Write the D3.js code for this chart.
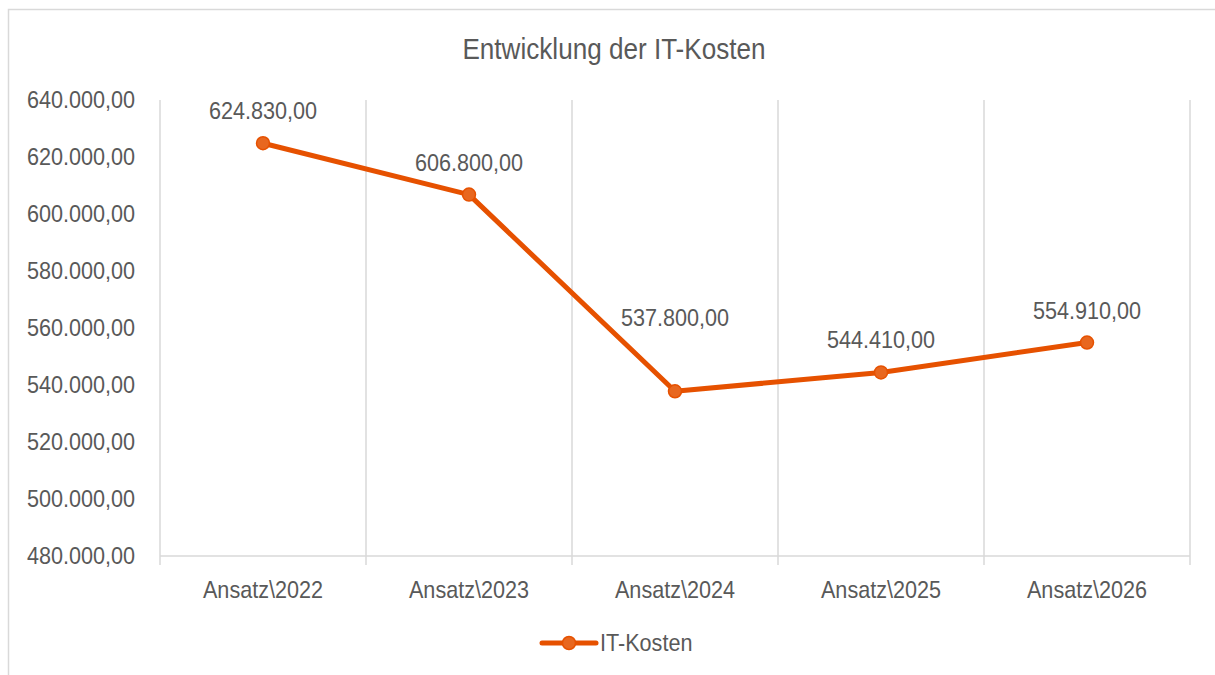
<!DOCTYPE html>
<html>
<head>
<meta charset="utf-8">
<script src="https://cdn.jsdelivr.net/npm/d3@7"></script>
<style>
  body { margin: 0; background: #fff; }
  text { font-family: "Liberation Sans", Arial, sans-serif; fill: #595959; }
</style>
</head>
<body>
<svg id="chart" width="1215" height="675"></svg>
<script>
var categories = ["Ansatz\\2022", "Ansatz\\2023", "Ansatz\\2024", "Ansatz\\2025", "Ansatz\\2026"];
var costs = [624830, 606800, 537800, 544410, 554910];
var yTicks = [480000, 500000, 520000, 540000, 560000, 580000, 600000, 620000, 640000];

var lineColor = "#e65100";
var fmt = d3.formatLocale({ decimal: ",", thousands: ".", grouping: [3], currency: ["", "€"] }).format(",.2f");

var svg = d3.select("#chart");
var m = { left: 160, right: 1190, top: 100, bottom: 556 };
var squeeze = 0.9; // narrow-looking font

function place(px, py) {
  return "translate(" + px + "," + py + ") scale(" + squeeze + ",1)";
}

// chart frame
svg.append("path")
    .attr("d", "M8.5,675 V9.5 H1215")
    .attr("fill", "none")
    .attr("stroke", "#d9d9d9")
    .attr("stroke-width", 1.5);

var x = d3.scaleBand().domain(categories).range([m.left, m.right]);
var y = d3.scaleLinear().domain([480000, 640000]).range([m.bottom, m.top]);

// vertical gridlines at category boundaries
var bounds = categories.map(c => x(c)).concat([m.right]);
svg.append("g").selectAll("line")
    .data(bounds)
    .enter().append("line")
      .attr("x1", d => d).attr("x2", d => d)
      .attr("y1", m.top).attr("y2", m.bottom + 9)
      .attr("stroke", "#d9d9d9")
      .attr("stroke-width", 1.5);

// baseline
svg.append("line")
    .attr("x1", m.left).attr("x2", m.right)
    .attr("y1", m.bottom).attr("y2", m.bottom)
    .attr("stroke", "#d9d9d9")
    .attr("stroke-width", 1.5);

// y labels
svg.append("g").selectAll("text")
    .data(yTicks)
    .enter().append("text")
      .attr("transform", d => place(135, y(d)))
      .attr("dy", "0.35em")
      .attr("text-anchor", "end")
      .attr("font-size", 24)
      .text(d => fmt(d));

// x labels
svg.append("g").selectAll("text")
    .data(categories)
    .enter().append("text")
      .attr("transform", d => place(x(d) + x.bandwidth() / 2, m.bottom + 42))
      .attr("text-anchor", "middle")
      .attr("font-size", 24)
      .text(d => d);

// title
svg.append("text")
    .attr("transform", place(614, 59))
    .attr("text-anchor", "middle")
    .attr("font-size", 29)
    .text("Entwicklung der IT-Kosten");

var pts = categories.map((c, i) => ({ c: c, v: costs[i] }));

svg.append("path")
    .datum(pts)
    .attr("fill", "none")
    .attr("stroke", lineColor)
    .attr("stroke-width", 5)
    .attr("stroke-linejoin", "round")
    .attr("d", d3.line().x(d => x(d.c) + x.bandwidth() / 2).y(d => y(d.v)));

svg.append("g").selectAll("circle")
    .data(pts)
    .enter().append("circle")
      .attr("cx", d => x(d.c) + x.bandwidth() / 2)
      .attr("cy", d => y(d.v))
      .attr("r", 6.5)
      .attr("fill", "#e8671f")
      .attr("stroke", lineColor)
      .attr("stroke-width", 1.5);

// data labels (the low point's label sits higher, clear of the line)
svg.append("g").selectAll("text")
    .data(pts)
    .enter().append("text")
      .attr("transform", (d, i) => place(x(d.c) + x.bandwidth() / 2, y(d.v) - (i === 2 ? 65 : 24)))
      .attr("text-anchor", "middle")
      .attr("font-size", 24)
      .text(d => fmt(d.v));

// legend
var lg = svg.append("g").attr("transform", "translate(542,643)");
lg.append("line")
    .attr("x1", 0).attr("x2", 54)
    .attr("stroke", lineColor)
    .attr("stroke-width", 5)
    .attr("stroke-linecap", "round");
lg.append("circle")
    .attr("cx", 27).attr("r", 6.5)
    .attr("fill", "#e8671f")
    .attr("stroke", lineColor)
    .attr("stroke-width", 1.5);
lg.append("text")
    .attr("transform", place(58, 0))
    .attr("dy", "0.35em")
    .attr("font-size", 24)
    .text("IT-Kosten");
</script>
</body>
</html>
